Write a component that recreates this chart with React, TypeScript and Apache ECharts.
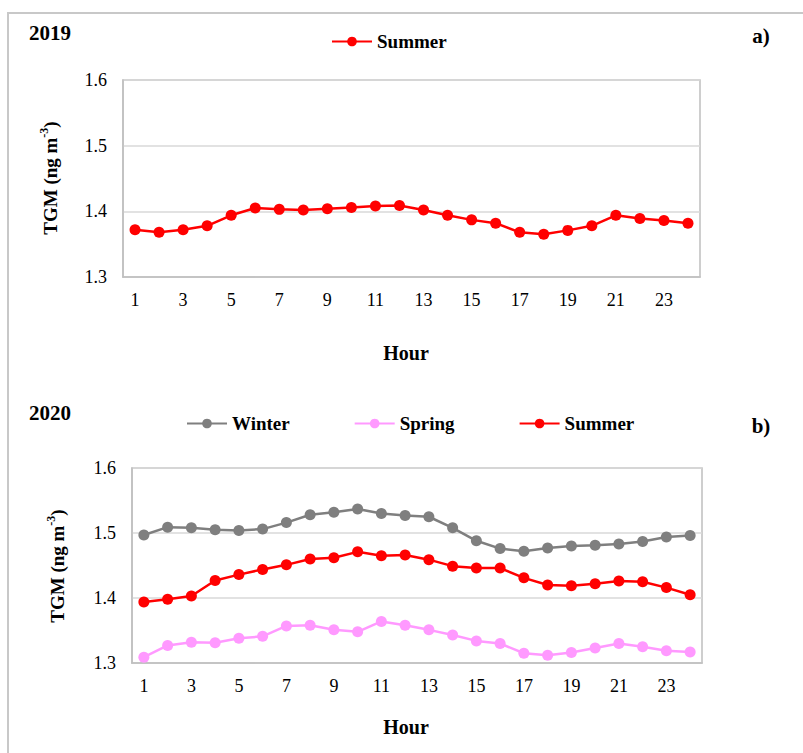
import React, { useEffect, useRef } from "react";
import * as echarts from "echarts";

// Hours of the day shown on both panels
const hours: string[] = Array.from({ length: 24 }, (_, i) => String(i + 1));

// 2019 hourly mean TGM (ng m-3)
const summer2019: number[] = [
  1.372, 1.368, 1.372, 1.378, 1.394, 1.405, 1.403, 1.402, 1.404, 1.406, 1.408, 1.409,
  1.402, 1.394, 1.387, 1.382, 1.368, 1.365, 1.371, 1.378, 1.394, 1.389, 1.386, 1.382,
];

// 2020 hourly mean TGM (ng m-3)
const winter2020: number[] = [
  1.497, 1.509, 1.508, 1.505, 1.504, 1.506, 1.516, 1.528, 1.532, 1.537, 1.530, 1.527,
  1.525, 1.508, 1.488, 1.476, 1.472, 1.477, 1.480, 1.481, 1.483, 1.487, 1.494, 1.496,
];
const spring2020: number[] = [
  1.309, 1.327, 1.332, 1.331, 1.338, 1.341, 1.357, 1.358, 1.351, 1.348, 1.364, 1.358,
  1.351, 1.343, 1.334, 1.330, 1.315, 1.312, 1.316, 1.323, 1.330, 1.325, 1.319, 1.317,
];
const summer2020: number[] = [
  1.394, 1.398, 1.403, 1.427, 1.436, 1.444, 1.451, 1.460, 1.462, 1.471, 1.465, 1.466,
  1.459, 1.449, 1.446, 1.446, 1.431, 1.420, 1.419, 1.422, 1.426, 1.425, 1.416, 1.405,
];

const FONT = "'Liberation Serif', 'Times New Roman', serif";
const COLORS = { winter: "#7f7f7f", spring: "#ff99ff", summer: "#ff0000" };

function lineSeries(name: string, data: number[], color: string, idx: number) {
  return {
    type: "line",
    name,
    data,
    xAxisIndex: idx,
    yAxisIndex: idx,
    symbol: "circle",
    symbolSize: 11,
    itemStyle: { color },
    lineStyle: { color, width: 2.5 },
  };
}

function xAxis(idx: number) {
  return {
    type: "category",
    gridIndex: idx,
    data: hours,
    boundaryGap: true,
    axisTick: { show: false },
    axisLine: { lineStyle: { color: "#bfbfbf", width: 1.5 } },
    axisLabel: { interval: 1, margin: 14, fontFamily: FONT, fontSize: 18, color: "#000" },
  };
}

function yAxis(idx: number) {
  return {
    type: "value",
    gridIndex: idx,
    min: 1.3,
    max: 1.6,
    interval: 0.1,
    axisTick: { show: false },
    axisLine: { show: true, lineStyle: { color: "#bfbfbf", width: 1.5 } },
    splitLine: { lineStyle: { color: "#d9d9d9", width: 1.5 } },
    axisLabel: {
      margin: 16,
      fontFamily: FONT,
      fontSize: 18,
      color: "#000",
      formatter: (v: number) => v.toFixed(1),
    },
  };
}

function boldText(text: string, x: number, y: number, size = 20) {
  return {
    type: "text",
    x,
    y,
    style: {
      text,
      fontFamily: FONT,
      fontWeight: "bold",
      fontSize: size,
      fill: "#000",
      align: "center",
      verticalAlign: "middle",
    },
  };
}

function yTitle(x: number, y: number) {
  return {
    type: "text",
    x,
    y,
    rotation: Math.PI / 2,
    style: {
      text: "{a|TGM (ng m}{s|-3}{a|)}",
      align: "center",
      verticalAlign: "middle",
      fill: "#000",
      rich: {
        a: { fontFamily: FONT, fontWeight: "bold", fontSize: 19, lineHeight: 22, verticalAlign: "bottom" },
        s: { fontFamily: FONT, fontWeight: "bold", fontSize: 12, lineHeight: 22, verticalAlign: "top" },
      },
    },
  };
}

export default function App() {
  const ref = useRef<HTMLDivElement>(null);

  useEffect(() => {
    document.body.style.margin = "0";
    if (!ref.current) return;
    const chart = echarts.init(ref.current, null, { renderer: "svg" });
    const legendText = { fontFamily: FONT, fontWeight: "bold", fontSize: 19, color: "#000" };
    chart.setOption({
      animation: false,
      backgroundColor: "#fff",
      grid: [
        { left: 123, right: 103, top: 80, height: 197, show: true, borderColor: "#bfbfbf", borderWidth: 1.5 },
        { left: 132, right: 101, top: 468, height: 195, show: true, borderColor: "#bfbfbf", borderWidth: 1.5 },
      ],
      legend: [
        {
          data: ["Summer"],
          left: 326,
          top: 27,
          itemWidth: 40,
          itemHeight: 12,
          textStyle: legendText,
        },
        {
          data: ["Winter", "Spring", "Summer"],
          left: 181,
          top: 409,
          itemWidth: 40,
          itemHeight: 12,
          itemGap: 64,
          textStyle: legendText,
        },
      ],
      xAxis: [xAxis(0), xAxis(1)],
      yAxis: [yAxis(0), yAxis(1)],
      series: [
        lineSeries("Summer", summer2019, COLORS.summer, 0),
        lineSeries("Winter", winter2020, COLORS.winter, 1),
        lineSeries("Spring", spring2020, COLORS.spring, 1),
        lineSeries("Summer", summer2020, COLORS.summer, 1),
      ],
      graphic: [
        {
          type: "rect",
          shape: { x: 8, y: 13, width: 820, height: 760 },
          style: { fill: "none", stroke: "#c8c8c8", lineWidth: 2 },
          silent: true,
        },
        boldText("2019", 50, 33, 21),
        boldText("a)", 761, 36, 21),
        boldText("2020", 50, 413, 21),
        boldText("b)", 761, 426, 21),
        boldText("Hour", 406, 353, 20),
        boldText("Hour", 406, 727, 20),
        yTitle(49, 178),
        yTitle(56, 566),
      ],
    });
    return () => chart.dispose();
  }, []);

  return <div ref={ref} style={{ width: 803, height: 753 }} />;
}
